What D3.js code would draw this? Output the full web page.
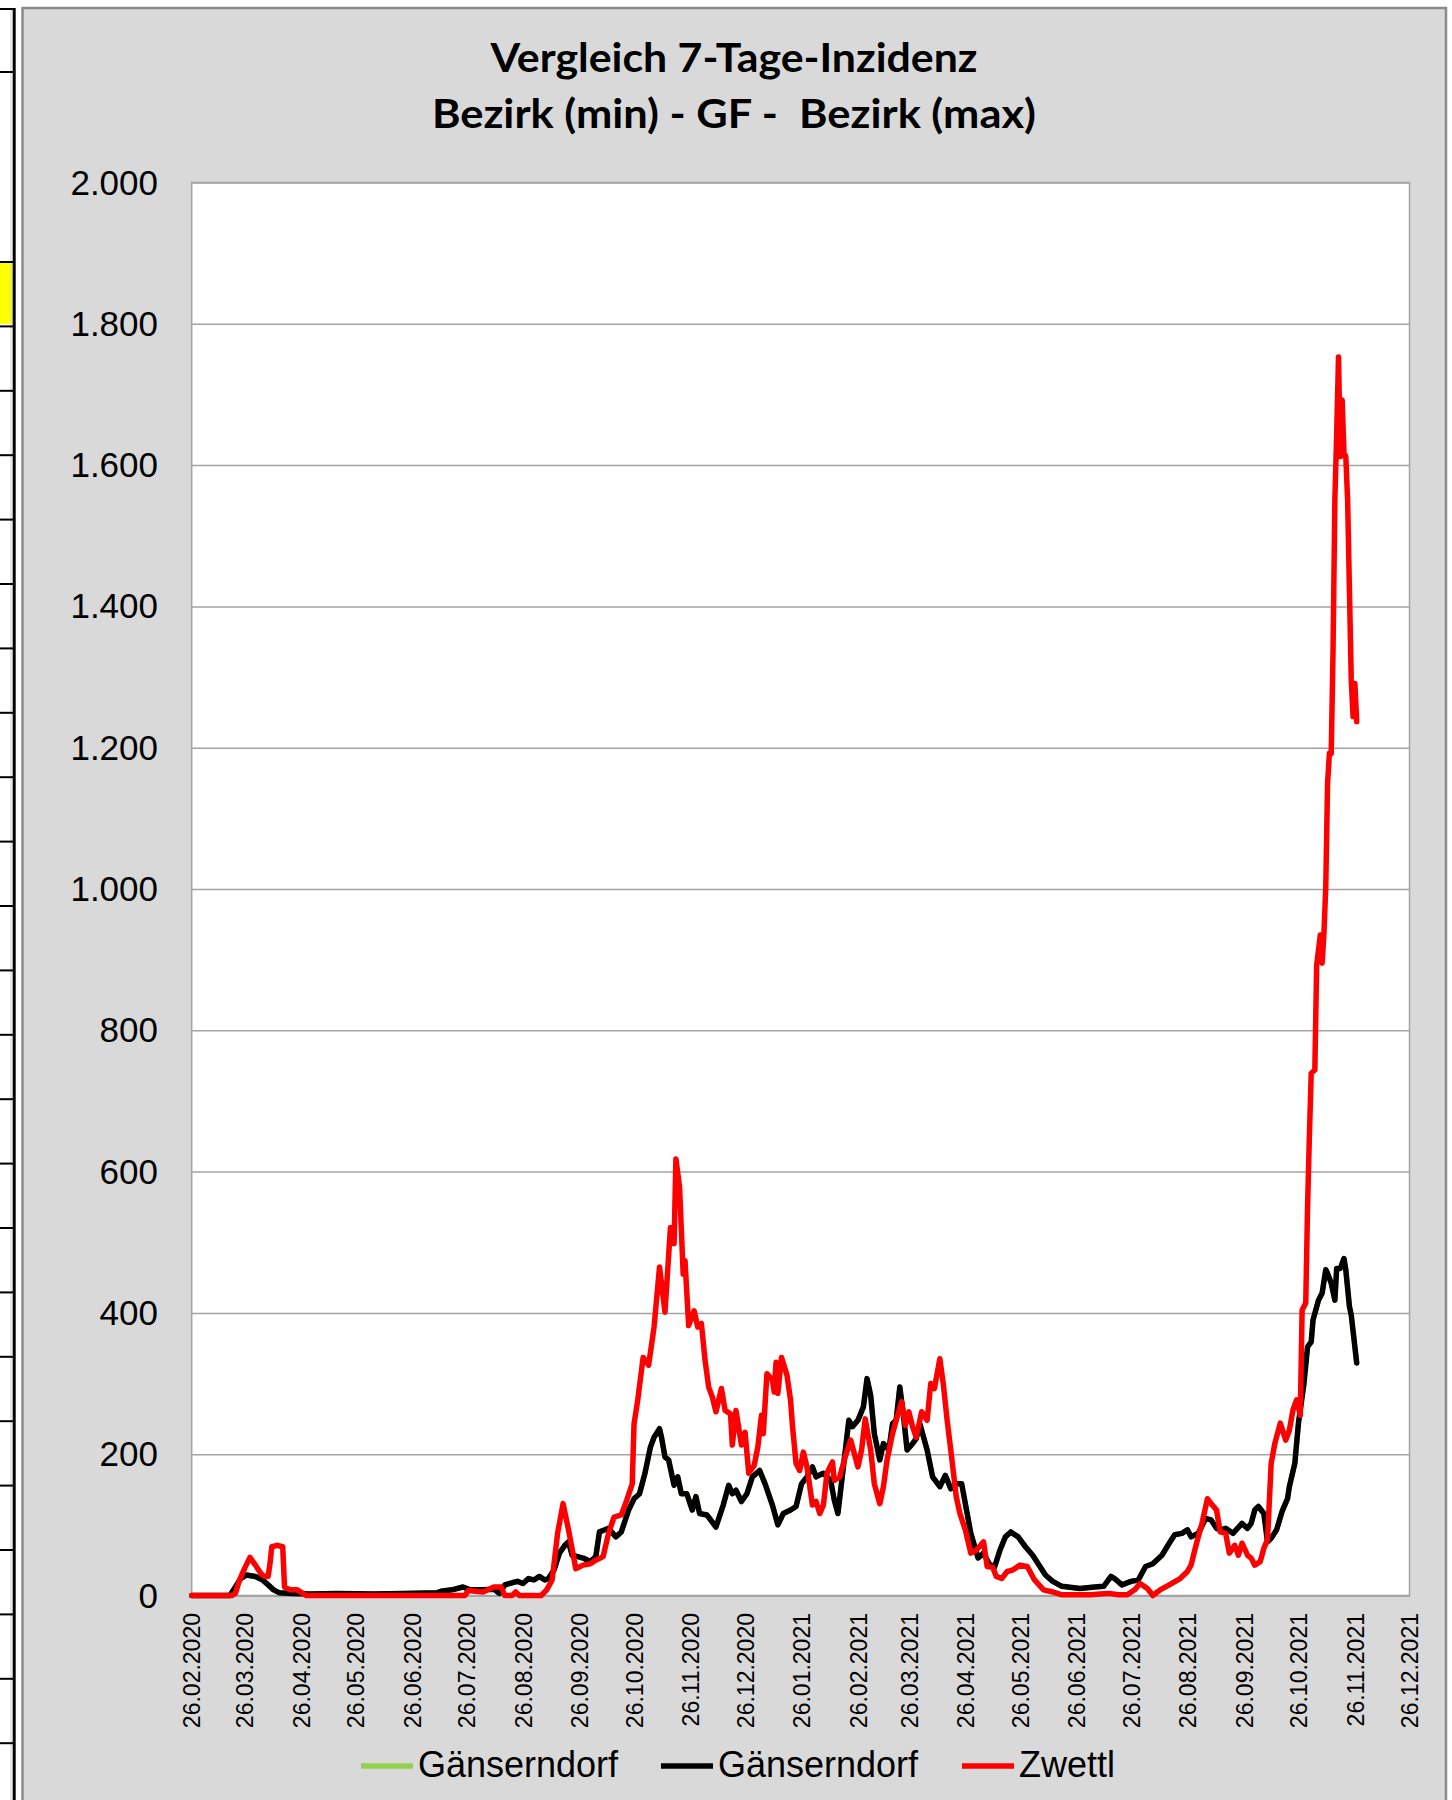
<!DOCTYPE html>
<html>
<head>
<meta charset="utf-8">
<script src="https://cdn.jsdelivr.net/npm/d3@7"></script>
<style>
  body { margin: 0; background: #ffffff; }
  svg { display: block; }
</style>
</head>
<body>
<svg id="chart" width="1452" height="1800"></svg>
<script>
//-----------------------------------
//   7-Tage-Inzidenz Vergleich
//  Gänserndorf / Zwettl, 2020-2021
//-----------------------------------

//=================================
//             Data
//=================================

var titleLines = ["Vergleich 7-Tage-Inzidenz", "Bezirk (min) - GF -  Bezirk (max)"];

//Month labels under the x axis (first and last one also set the date range)
var tickLabels = ["26.02.2020", "26.03.2020", "26.04.2020", "26.05.2020", "26.06.2020",
  "26.07.2020", "26.08.2020", "26.09.2020", "26.10.2020", "26.11.2020", "26.12.2020",
  "26.01.2021", "26.02.2021", "26.03.2021", "26.04.2021", "26.05.2021", "26.06.2021",
  "26.07.2021", "26.08.2021", "26.09.2021", "26.10.2021", "26.11.2021", "26.12.2021"];

var yTicks = [0, 200, 400, 600, 800, 1000, 1200, 1400, 1600, 1800, 2000];

var seriesNames = ["Gänserndorf", "Gänserndorf", "Zwettl"];
var seriesColors = ["#92d050", "#000000", "#ff0000"];

//Gänserndorf (black line)
var gaenserndorf = [
  ["2020-02-26", 0], ["2020-03-18", 0], ["2020-03-21", 12], ["2020-03-24", 24], ["2020-03-27", 29],
  ["2020-04-01", 27], ["2020-04-05", 22], ["2020-04-08", 15], ["2020-04-11", 8], ["2020-04-14", 4],
  ["2020-04-21", 3], ["2020-05-01", 2], ["2020-05-16", 3], ["2020-06-05", 2], ["2020-06-21", 3],
  ["2020-07-10", 4], ["2020-07-12", 6], ["2020-07-18", 8], ["2020-07-24", 12], ["2020-07-28", 8],
  ["2020-08-04", 8], ["2020-08-10", 9], ["2020-08-13", 3], ["2020-08-16", 15], ["2020-08-20", 18],
  ["2020-08-23", 20], ["2020-08-26", 17], ["2020-08-29", 24], ["2020-09-01", 22], ["2020-09-04", 27],
  ["2020-09-07", 22], ["2020-09-09", 24], ["2020-09-12", 36], ["2020-09-15", 60], ["2020-09-18", 71],
  ["2020-09-20", 76], ["2020-09-22", 57], ["2020-09-25", 55], ["2020-09-28", 53], ["2020-10-02", 48],
  ["2020-10-05", 55], ["2020-10-07", 90], ["2020-10-10", 93], ["2020-10-12", 95], ["2020-10-16", 83],
  ["2020-10-19", 90], ["2020-10-23", 121], ["2020-10-26", 137], ["2020-10-29", 144], ["2020-11-01", 173],
  ["2020-11-04", 210], ["2020-11-06", 224], ["2020-11-09", 236], ["2020-11-10", 225], ["2020-11-12", 196],
  ["2020-11-14", 192], ["2020-11-17", 156], ["2020-11-19", 168], ["2020-11-21", 144], ["2020-11-24", 144],
  ["2020-11-27", 121], ["2020-11-29", 140], ["2020-12-01", 116], ["2020-12-05", 114], ["2020-12-10", 97],
  ["2020-12-14", 128], ["2020-12-17", 156], ["2020-12-19", 144], ["2020-12-21", 149], ["2020-12-24", 133],
  ["2020-12-27", 144], ["2020-12-30", 168], ["2021-01-03", 177], ["2021-01-06", 158], ["2021-01-10", 128],
  ["2021-01-13", 100], ["2021-01-16", 116], ["2021-01-20", 121], ["2021-01-23", 126], ["2021-01-26", 158],
  ["2021-01-29", 168], ["2021-02-01", 182], ["2021-02-03", 168], ["2021-02-07", 173], ["2021-02-11", 163],
  ["2021-02-13", 135], ["2021-02-15", 116], ["2021-02-18", 182], ["2021-02-21", 248], ["2021-02-23", 239],
  ["2021-02-26", 248], ["2021-03-01", 267], ["2021-03-03", 307], ["2021-03-05", 283], ["2021-03-07", 229],
  ["2021-03-10", 192], ["2021-03-12", 215], ["2021-03-15", 206], ["2021-03-17", 243], ["2021-03-19", 248],
  ["2021-03-21", 295], ["2021-03-23", 255], ["2021-03-25", 206], ["2021-03-28", 215], ["2021-03-30", 222],
  ["2021-04-01", 243], ["2021-04-05", 206], ["2021-04-08", 168], ["2021-04-12", 154], ["2021-04-15", 170],
  ["2021-04-18", 151], ["2021-04-21", 158], ["2021-04-24", 158], ["2021-04-27", 116], ["2021-04-29", 88],
  ["2021-05-03", 53], ["2021-05-06", 60], ["2021-05-09", 45], ["2021-05-12", 40], ["2021-05-15", 64],
  ["2021-05-18", 83], ["2021-05-21", 90], ["2021-05-25", 83], ["2021-05-29", 69], ["2021-06-02", 57],
  ["2021-06-05", 45], ["2021-06-09", 29], ["2021-06-13", 20], ["2021-06-18", 13], ["2021-06-28", 10],
  ["2021-07-06", 12], ["2021-07-11", 13], ["2021-07-15", 27], ["2021-07-17", 24], ["2021-07-21", 15],
  ["2021-07-26", 20], ["2021-07-30", 22], ["2021-08-03", 41], ["2021-08-07", 45], ["2021-08-12", 57],
  ["2021-08-16", 74], ["2021-08-19", 86], ["2021-08-23", 88], ["2021-08-26", 93], ["2021-08-28", 83],
  ["2021-09-01", 88], ["2021-09-05", 109], ["2021-09-08", 107], ["2021-09-11", 95], ["2021-09-13", 93],
  ["2021-09-16", 95], ["2021-09-20", 88], ["2021-09-25", 102], ["2021-09-28", 95], ["2021-09-30", 102],
  ["2021-10-02", 121], ["2021-10-04", 126], ["2021-10-07", 116], ["2021-10-09", 76], ["2021-10-11", 81],
  ["2021-10-14", 93], ["2021-10-17", 119], ["2021-10-20", 137], ["2021-10-21", 154], ["2021-10-24", 187],
  ["2021-10-26", 244], ["2021-10-29", 300], ["2021-10-31", 352], ["2021-11-02", 359], ["2021-11-03", 390],
  ["2021-11-06", 418], ["2021-11-08", 428], ["2021-11-10", 461], ["2021-11-11", 456], ["2021-11-13", 442],
  ["2021-11-15", 418], ["2021-11-16", 463], ["2021-11-18", 463], ["2021-11-20", 477], ["2021-11-21", 461],
  ["2021-11-23", 409], ["2021-11-24", 397], ["2021-11-27", 329]
];

//Bezirk (min) is Gänserndorf too, it sits right under the black line
var bezirkMin = gaenserndorf;

//Zwettl (red line)
var zwettl = [
  ["2020-02-26", 0], ["2020-03-19", 0], ["2020-03-21", 3], ["2020-03-23", 20], ["2020-03-26", 38],
  ["2020-03-29", 54], ["2020-04-01", 43], ["2020-04-04", 31], ["2020-04-06", 27], ["2020-04-08", 27],
  ["2020-04-09", 45], ["2020-04-10", 69], ["2020-04-13", 71], ["2020-04-16", 69], ["2020-04-17", 12],
  ["2020-04-20", 8], ["2020-04-24", 8], ["2020-04-27", 3], ["2020-04-29", 0], ["2020-07-25", 0],
  ["2020-07-27", 7], ["2020-08-04", 5], ["2020-08-10", 12], ["2020-08-14", 12], ["2020-08-16", 0],
  ["2020-08-20", 0], ["2020-08-22", 5], ["2020-08-24", 0], ["2020-09-05", 0], ["2020-09-08", 8],
  ["2020-09-11", 22], ["2020-09-14", 88], ["2020-09-17", 130], ["2020-09-20", 93], ["2020-09-24", 38],
  ["2020-09-28", 43], ["2020-10-02", 45], ["2020-10-05", 50], ["2020-10-09", 55], ["2020-10-12", 88],
  ["2020-10-15", 111], ["2020-10-19", 114], ["2020-10-22", 135], ["2020-10-25", 158], ["2020-10-26", 243],
  ["2020-10-28", 276], ["2020-10-31", 337], ["2020-11-03", 326], ["2020-11-06", 380], ["2020-11-09", 465],
  ["2020-11-12", 401], ["2020-11-15", 521], ["2020-11-17", 498], ["2020-11-18", 618], ["2020-11-20", 578],
  ["2020-11-22", 455], ["2020-11-23", 474], ["2020-11-25", 382], ["2020-11-28", 403], ["2020-11-30", 380],
  ["2020-12-02", 385], ["2020-12-04", 333], ["2020-12-06", 295], ["2020-12-08", 281], ["2020-12-10", 260],
  ["2020-12-13", 293], ["2020-12-15", 262], ["2020-12-18", 257], ["2020-12-19", 213], ["2020-12-21", 262],
  ["2020-12-24", 213], ["2020-12-26", 231], ["2020-12-28", 173], ["2020-12-31", 184], ["2021-01-02", 210],
  ["2021-01-04", 255], ["2021-01-05", 229], ["2021-01-07", 314], ["2021-01-10", 305], ["2021-01-11", 288],
  ["2021-01-12", 330], ["2021-01-13", 286], ["2021-01-15", 337], ["2021-01-18", 312], ["2021-01-20", 276],
  ["2021-01-21", 241], ["2021-01-23", 187], ["2021-01-25", 177], ["2021-01-27", 203], ["2021-01-29", 182],
  ["2021-02-01", 128], ["2021-02-03", 133], ["2021-02-05", 116], ["2021-02-07", 128], ["2021-02-09", 173],
  ["2021-02-12", 189], ["2021-02-13", 163], ["2021-02-16", 168], ["2021-02-19", 196], ["2021-02-22", 220],
  ["2021-02-24", 201], ["2021-02-26", 182], ["2021-02-28", 206], ["2021-03-02", 250], ["2021-03-05", 206],
  ["2021-03-07", 158], ["2021-03-10", 130], ["2021-03-12", 154], ["2021-03-14", 192], ["2021-03-17", 229],
  ["2021-03-19", 248], ["2021-03-22", 274], ["2021-03-24", 241], ["2021-03-26", 260], ["2021-03-28", 239],
  ["2021-03-30", 224], ["2021-04-02", 260], ["2021-04-05", 248], ["2021-04-07", 300], ["2021-04-09", 293],
  ["2021-04-12", 335], ["2021-04-14", 297], ["2021-04-16", 248], ["2021-04-18", 206], ["2021-04-21", 140],
  ["2021-04-23", 116], ["2021-04-26", 93], ["2021-04-29", 60], ["2021-05-02", 64], ["2021-05-06", 76],
  ["2021-05-08", 41], ["2021-05-11", 40], ["2021-05-13", 27], ["2021-05-16", 24], ["2021-05-19", 34],
  ["2021-05-22", 36], ["2021-05-26", 43], ["2021-05-30", 41], ["2021-06-03", 22], ["2021-06-08", 8],
  ["2021-06-13", 5], ["2021-06-18", 1], ["2021-07-04", 1], ["2021-07-09", 2], ["2021-07-14", 3],
  ["2021-07-19", 1], ["2021-07-24", 1], ["2021-07-28", 8], ["2021-07-31", 17], ["2021-08-04", 10],
  ["2021-08-07", 0], ["2021-08-11", 8], ["2021-08-16", 15], ["2021-08-22", 24], ["2021-08-26", 34],
  ["2021-08-28", 43], ["2021-08-31", 74], ["2021-09-03", 102], ["2021-09-06", 137], ["2021-09-08", 130],
  ["2021-09-11", 121], ["2021-09-13", 90], ["2021-09-16", 88], ["2021-09-18", 60], ["2021-09-21", 71],
  ["2021-09-23", 57], ["2021-09-25", 74], ["2021-09-28", 57], ["2021-09-30", 53], ["2021-10-02", 43],
  ["2021-10-05", 48], ["2021-10-07", 67], ["2021-10-09", 79], ["2021-10-11", 187], ["2021-10-13", 215],
  ["2021-10-16", 244], ["2021-10-19", 220], ["2021-10-21", 234], ["2021-10-23", 263], ["2021-10-25", 277],
  ["2021-10-27", 255], ["2021-10-28", 404], ["2021-10-30", 414], ["2021-10-31", 550], ["2021-11-01", 650],
  ["2021-11-02", 739], ["2021-11-04", 744], ["2021-11-05", 892], ["2021-11-07", 935], ["2021-11-08", 895],
  ["2021-11-09", 937], ["2021-11-10", 1003], ["2021-11-11", 1150], ["2021-11-12", 1192], ["2021-11-13", 1192],
  ["2021-11-14", 1338], ["2021-11-15", 1551], ["2021-11-16", 1645], ["2021-11-17", 1753], ["2021-11-18", 1612],
  ["2021-11-19", 1692], ["2021-11-20", 1617], ["2021-11-21", 1612], ["2021-11-22", 1551], ["2021-11-24", 1296],
  ["2021-11-25", 1244], ["2021-11-26", 1291], ["2021-11-27", 1237]
];

//=================================
//     Canvas and layout values
//=================================

var svg = d3.select("#chart");

var plotLeft = 191.7, plotRight = 1409.5;//Inner (white) plot area
var plotTop = 182.5, plotBottom = 1595.5;

var labelFont = "'Liberation Sans', Arial, sans-serif";
var gridColor = "#a3a3a3";

var parseIso = d3.timeParse("%Y-%m-%d");
var parseTick = d3.timeParse("%d.%m.%Y");
var tickDates = tickLabels.map(parseTick);

//German number style: 2.000
var deFormat = d3.formatLocale({decimal: ",", thousands: ".", grouping: [3], currency: ["", " €"]}).format(",d");

var x = d3.scaleTime()
  .domain([tickDates[0], tickDates[tickDates.length - 1]])
  .range([plotLeft, plotRight]);

var y = d3.scaleLinear()
  .domain([0, 2000])
  .range([plotBottom, plotTop]);

//========================
//  Spreadsheet leftovers
//========================
//Bit of the worksheet that shows on the left of the chart box
function drawSheetStrip() {
  var strip = svg.append("g");
  strip.append("rect").attr("x", 0).attr("y", 261).attr("width", 13).attr("height", 63).attr("fill", "#ffff00");
  strip.append("line").attr("x1", 11).attr("x2", 11).attr("y1", 8).attr("y2", 1800)
    .attr("stroke", "#d0d0d0").attr("stroke-width", 1);
  var rows = [9, 72];
  for (var r = 262; r < 1800; r += 64.4) rows.push(r);
  strip.selectAll("line.row").data(rows).enter().append("line")
    .attr("class", "row")
    .attr("x1", 0).attr("x2", 14)
    .attr("y1", function(d) { return d; }).attr("y2", function(d) { return d; })
    .attr("stroke", "#000").attr("stroke-width", 2);
  strip.append("line").attr("x1", 14.2).attr("x2", 14.2).attr("y1", 8).attr("y2", 1800)
    .attr("stroke", "#000").attr("stroke-width", 3);
}

drawSheetStrip();

//========================
//   Chart box and title
//========================
svg.append("rect")
  .attr("x", 22.5).attr("y", 8)
  .attr("width", 1423.5).attr("height", 1800)
  .attr("fill", "#d9d9d9")
  .attr("stroke", "#8a8a8a")
  .attr("stroke-width", 2.5);

var titleWidths = [487, 604];
svg.selectAll("text.title").data(titleLines).enter().append("text")
  .attr("class", "title")
  .attr("x", 734)
  .attr("y", function(d, i) { return i == 0 ? 72 : 127.5; })
  .attr("text-anchor", "middle")
  .attr("textLength", function(d, i) { return titleWidths[i]; })
  .attr("lengthAdjust", "spacingAndGlyphs")
  .style("white-space", "pre")
  .style("font-family", "Lato, 'Open Sans', sans-serif")
  .style("font-weight", 700)
  .style("font-size", "41px")
  .attr("fill", "#000")
  .text(function(d) { return d; });

//========================
//    Plot area + grid
//========================
svg.append("rect")
  .attr("x", plotLeft).attr("y", plotTop)
  .attr("width", plotRight - plotLeft).attr("height", plotBottom - plotTop)
  .attr("fill", "#ffffff")
  .attr("stroke", gridColor)
  .attr("stroke-width", 1.5);

var grid = svg.append("g")
  .attr("transform", "translate(" + plotLeft + ",0)")
  .call(d3.axisLeft(y).tickValues(yTicks).tickSize(-(plotRight - plotLeft)).tickFormat(""));
grid.select(".domain").remove();
grid.selectAll("line").attr("stroke", gridColor).attr("stroke-width", 1.5);

//Y labels
var yAxis = svg.append("g")
  .attr("transform", "translate(" + plotLeft + ",0)")
  .call(d3.axisLeft(y).tickValues(yTicks).tickSize(0).tickPadding(33.7).tickFormat(deFormat));
yAxis.select(".domain").remove();
yAxis.selectAll("text")
  .attr("dy", "0.33em")
  .attr("fill", "#000")
  .style("font-family", labelFont)
  .style("font-size", "35px");

//X labels, turned to read upwards
var xAxis = svg.append("g")
  .attr("transform", "translate(0," + plotBottom + ")")
  .call(d3.axisBottom(x).tickValues(tickDates).tickSize(0).tickFormat(d3.timeFormat("%d.%m.%Y")));
xAxis.select(".domain").attr("stroke", gridColor).attr("stroke-width", 1.5);
xAxis.selectAll("text")
  .attr("transform", "rotate(-90)")
  .attr("text-anchor", "end")
  .attr("x", -17.5)
  .attr("y", 0)
  .attr("dy", "0.36em")
  .attr("fill", "#000")
  .style("font-family", labelFont)
  .style("font-size", "23px");

//========================
//        Lines
//========================
var line = d3.line()
  .x(function(d) { return x(parseIso(d[0])); })
  .y(function(d) { return y(d[1]); });

var allSeries = [bezirkMin, gaenserndorf, zwettl];

svg.append("g").selectAll("path").data(allSeries).enter().append("path")
  .attr("d", line)
  .attr("fill", "none")
  .attr("stroke", function(d, i) { return seriesColors[i]; })
  .attr("stroke-width", function(d, i) { return i == 0 ? 5 : 5.5; })
  .attr("stroke-linejoin", "round")
  .attr("stroke-linecap", "round");

//========================
//        Legend
//========================
var legendX = [361, 661, 962];//Left end of each legend swatch
var legend = svg.append("g").selectAll("g").data(seriesNames).enter().append("g")
  .attr("transform", function(d, i) { return "translate(" + legendX[i] + ",1766)"; });

legend.append("line")
  .attr("x1", 0).attr("x2", 52)
  .attr("stroke", function(d, i) { return seriesColors[i]; })
  .attr("stroke-width", 5.5);

legend.append("text")
  .attr("x", 57)
  .attr("y", 11)
  .attr("fill", "#000")
  .style("font-family", labelFont)
  .style("font-size", "36px")
  .text(function(d) { return d; });
</script>
</body>
</html>
